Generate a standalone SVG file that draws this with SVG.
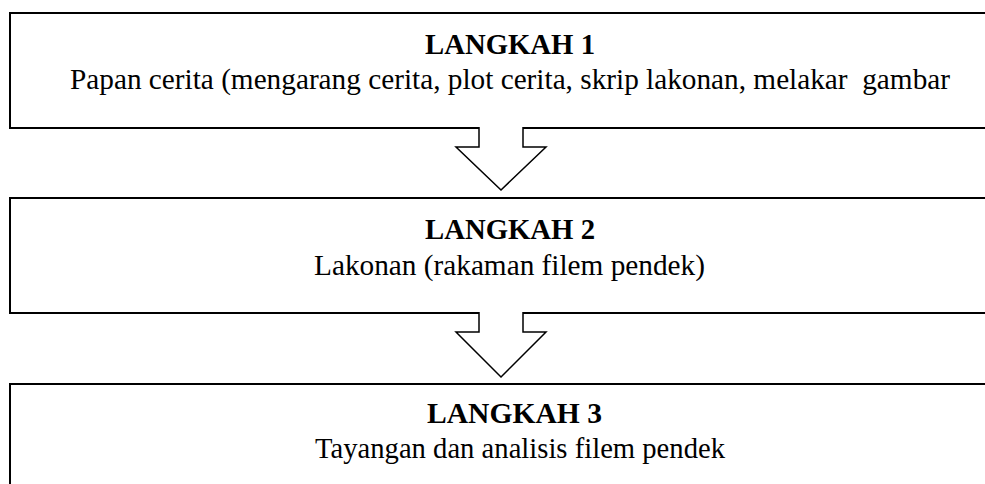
<svg xmlns="http://www.w3.org/2000/svg" width="985" height="484" viewBox="0 0 985 484">
<style>
.box{fill:#fff;stroke:#000;stroke-width:2}
.arr{fill:#fff;stroke:#000;stroke-width:1.5;stroke-linejoin:miter}
.h{font-family:"Liberation Serif","Times New Roman",serif;font-weight:bold;font-size:29px;fill:#000}
.t{font-family:"Liberation Serif","Times New Roman",serif;font-size:29px;fill:#000}
</style>
<rect width="985" height="484" fill="#fff"/>
<g id="step1">
<rect class="box" x="10" y="13" width="990" height="115"/>
<text class="h" x="425" y="54" textLength="170" lengthAdjust="spacingAndGlyphs">LANGKAH 1</text>
<text class="t" x="70" y="89" textLength="880" lengthAdjust="spacingAndGlyphs" xml:space="preserve">Papan cerita (mengarang cerita, plot cerita, skrip lakonan, melakar  gambar</text>
</g>
<g id="step2">
<rect class="box" x="10" y="198" width="990" height="115"/>
<text class="h" x="425" y="239" textLength="170" lengthAdjust="spacingAndGlyphs">LANGKAH 2</text>
<text class="t" x="314" y="275" textLength="391" lengthAdjust="spacingAndGlyphs">Lakonan (rakaman filem pendek)</text>
</g>
<g id="step3">
<rect class="box" x="10" y="384" width="990" height="120"/>
<text class="h" x="427" y="423" textLength="175" lengthAdjust="spacingAndGlyphs">LANGKAH 3</text>
<text class="t" x="315" y="458" textLength="410" lengthAdjust="spacingAndGlyphs">Tayangan dan analisis filem pendek</text>
</g>
<g id="connectors">
<path class="arr" d="M479,127 V147 H456 L501,190 L546,147 H523 V127"/>
<path class="arr" d="M479,312 V332 H456 L501,377 L546,332 H523 V312"/>
</g>
</svg>
